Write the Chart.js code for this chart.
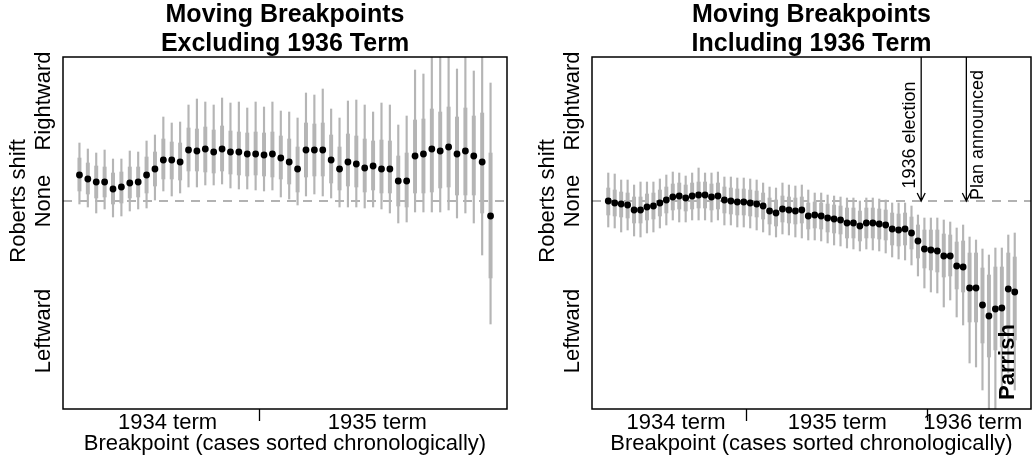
<!DOCTYPE html>
<html>
<head>
<meta charset="utf-8">
<script src="https://cdn.jsdelivr.net/npm/chart.js@4.4.1/dist/chart.umd.min.js"></script>
<style>
  body { margin: 0; background: #fff; }
  canvas { position: absolute; top: 0; }
  #leftChart { left: 0; }
  #rightChart { left: 517px; }
</style>
</head>
<body>
<canvas id="leftChart" width="517" height="460"></canvas>
<canvas id="rightChart" width="518" height="460"></canvas>
<script>
// cases per term, in chronological order
var termLabels = ['1934 term', '1935 term', '1936 term'];
var termSizes1 = [22, 28];
var termSizes2 = [22, 28, 14];

var yTickValues = [1, 0, -1.3];
var yTickLabels = ['Rightward', 'None', 'Leftward'];

// left panel: breakpoints excluding the 1936 term
var est1 = [0.26,0.22,0.19,0.19,0.12,0.14,0.18,0.19,0.26,0.32,0.41,0.41,0.39,0.51,0.50,0.52,0.49,0.52,0.49,0.49,0.47,0.47,0.46,0.47,0.43,
            0.39,0.32,0.51,0.51,0.51,0.41,0.32,0.39,0.37,0.33,0.35,0.32,0.32,0.20,0.20,0.45,0.47,0.52,0.50,0.54,0.47,0.50,0.45,0.39,-0.15];
var hi95_1 = [0.58,0.52,0.48,0.51,0.42,0.42,0.50,0.49,0.60,0.66,0.84,0.78,0.79,0.96,1.02,0.99,0.96,1.03,0.98,0.99,0.93,0.99,0.94,0.99,0.90,
              0.89,0.83,1.08,1.06,1.12,0.92,0.83,1.00,1.01,0.96,0.89,0.98,0.96,0.76,0.85,1.31,1.27,1.60,1.50,1.70,1.32,1.55,1.30,1.60,1.18];
var hi50_1 = [0.43,0.38,0.35,0.34,0.28,0.29,0.34,0.34,0.44,0.49,0.62,0.59,0.58,0.73,0.72,0.74,0.71,0.75,0.70,0.69,0.68,0.69,0.68,0.69,0.65,
              0.62,0.54,0.78,0.77,0.78,0.66,0.54,0.67,0.65,0.62,0.60,0.61,0.60,0.45,0.48,0.81,0.82,0.92,0.89,0.94,0.84,0.93,0.85,0.88,0.48];
var lo50_1 = [0.10,0.07,0.03,0.04,-0.03,-0.02,0.03,0.04,0.08,0.15,0.22,0.22,0.21,0.30,0.30,0.29,0.28,0.30,0.27,0.26,0.25,0.26,0.25,0.24,0.22,
              0.17,0.09,0.24,0.25,0.25,0.18,0.11,0.15,0.14,0.09,0.11,0.08,0.08,-0.05,-0.06,0.08,0.08,0.09,0.13,0.14,0.06,0.06,0.06,-0.12,-0.77];
var lo95_1 = [-0.03,-0.06,-0.12,-0.08,-0.16,-0.15,-0.10,-0.08,-0.07,0.01,0.10,0.05,0.08,0.14,0.14,0.16,0.16,0.17,0.13,0.12,0.12,0.11,0.10,0.11,0.04,
              0.02,-0.04,0.05,0.07,0.05,0.03,-0.06,-0.06,-0.06,-0.07,-0.06,-0.08,-0.12,-0.22,-0.21,-0.11,-0.11,-0.11,-0.11,-0.09,-0.17,-0.12,-0.22,-0.54,-1.23];

// right panel: breakpoints including the 1936 term
var est2 = [0.00,-0.02,-0.03,-0.04,-0.09,-0.09,-0.06,-0.05,-0.02,0.01,0.04,0.05,0.03,0.05,0.06,0.06,0.04,0.05,0.01,0.00,-0.01,-0.01,-0.02,-0.03,-0.05,-0.10,-0.12,-0.08,-0.09,-0.10,-0.09,-0.15,
            -0.14,-0.15,-0.17,-0.18,-0.19,-0.22,-0.22,-0.25,-0.22,-0.22,-0.23,-0.24,-0.28,-0.29,-0.28,-0.32,-0.40,-0.48,-0.49,-0.50,-0.55,-0.55,-0.65,-0.66,-0.87,-0.87,-1.04,-1.15,-1.08,-1.07,-0.88,-0.91];
var hi95_2 = [0.28,0.27,0.21,0.21,0.16,0.19,0.19,0.19,0.22,0.26,0.29,0.28,0.25,0.28,0.33,0.28,0.28,0.29,0.24,0.24,0.23,0.23,0.22,0.21,0.18,0.14,0.13,0.18,0.16,0.15,0.16,0.11,
              0.08,0.08,0.06,0.05,0.04,0.03,0.03,0.00,0.03,0.03,0.02,0.01,-0.02,-0.02,-0.02,-0.05,-0.14,-0.17,-0.17,-0.17,-0.19,-0.21,-0.27,-0.24,-0.36,-0.39,-0.48,-0.54,-0.47,-0.47,-0.34,-0.32];
var hi50_2 = [0.13,0.11,0.09,0.08,0.04,0.04,0.07,0.08,0.11,0.14,0.17,0.18,0.16,0.18,0.19,0.19,0.17,0.18,0.14,0.13,0.12,0.12,0.11,0.10,0.08,0.03,0.01,0.05,0.04,0.03,0.04,-0.02,
              -0.01,-0.02,-0.03,-0.04,-0.05,-0.07,-0.07,-0.10,-0.07,-0.07,-0.08,-0.09,-0.12,-0.13,-0.12,-0.16,-0.24,-0.29,-0.29,-0.29,-0.33,-0.34,-0.41,-0.40,-0.52,-0.52,-0.67,-0.74,-0.66,-0.66,-0.52,-0.56];
var lo50_2 = [-0.14,-0.15,-0.16,-0.17,-0.22,-0.22,-0.19,-0.18,-0.15,-0.12,-0.09,-0.08,-0.10,-0.08,-0.07,-0.07,-0.09,-0.08,-0.12,-0.13,-0.14,-0.14,-0.15,-0.16,-0.18,-0.23,-0.25,-0.21,-0.22,-0.23,-0.22,-0.28,
              -0.27,-0.28,-0.31,-0.32,-0.33,-0.37,-0.37,-0.40,-0.37,-0.37,-0.38,-0.39,-0.44,-0.45,-0.44,-0.48,-0.57,-0.67,-0.69,-0.71,-0.76,-0.75,-0.88,-0.91,-1.21,-1.21,-1.42,-1.56,-1.49,-1.46,-1.28,-1.39];
var lo95_2 = [-0.26,-0.27,-0.31,-0.29,-0.35,-0.36,-0.32,-0.31,-0.27,-0.24,-0.19,-0.21,-0.21,-0.19,-0.19,-0.19,-0.21,-0.19,-0.24,-0.24,-0.26,-0.26,-0.27,-0.29,-0.31,-0.34,-0.36,-0.33,-0.34,-0.36,-0.37,-0.39,
              -0.39,-0.40,-0.42,-0.44,-0.45,-0.47,-0.48,-0.50,-0.48,-0.49,-0.50,-0.52,-0.56,-0.58,-0.59,-0.64,-0.75,-0.87,-0.91,-0.92,-1.06,-0.99,-1.16,-1.24,-1.62,-1.66,-1.89,-2.20,-2.10,-1.92,-1.72,-1.89];

// marked events (case position) and the Parrish decision
var events2 = [
  { label: '1936 election', at: 49.5, side: -1 },
  { label: 'Plan announced', at: 56.5, side: 1 }
];
var parrishCase = 63;

var FONT = '"Liberation Sans", Arial, Helvetica, sans-serif';
var GREY = '#b5b5b5';

function termTicks(sizes) {
  var ticks = [], start = 1;
  sizes.forEach(function (n, i) {
    var end = start + n - 1;
    ticks.push({ value: (start + end) / 2, label: termLabels[i], brk: false });
    if (i < sizes.length - 1) ticks.push({ value: end + 0.5, label: '', brk: true });
    start = end + 1;
  });
  return ticks;
}

function buildDatasets(est, lo95, lo50, hi50, hi95) {
  var pts = [], inner = [], outer = [];
  est.forEach(function (v, i) {
    pts.push({ x: i + 1, y: v });
    inner.push({ x: i + 1, y: [lo50[i], hi50[i]] });
    outer.push({ x: i + 1, y: [lo95[i], hi95[i]] });
  });
  return [
    { type: 'scatter', data: pts, pointRadius: 3.4, pointBackgroundColor: '#000', pointBorderWidth: 0, order: 0 },
    { type: 'bar', data: inner, backgroundColor: GREY, barThickness: 3.3, grouped: false, order: 1 },
    { type: 'bar', data: outer, backgroundColor: GREY, barThickness: 1.5, grouped: false, order: 2 }
  ];
}

var framePlugin = {
  id: 'frame',
  beforeDatasetsDraw: function (chart) {
    var a = chart.chartArea, ctx = chart.ctx;
    var y0 = chart.scales.y.getPixelForValue(0);
    ctx.save();
    ctx.strokeStyle = '#999';
    ctx.lineWidth = 1.3;
    ctx.setLineDash([9, 7]);
    ctx.beginPath();
    ctx.moveTo(a.left, y0);
    ctx.lineTo(a.right, y0);
    ctx.stroke();
    ctx.restore();
  },
  afterDraw: function (chart) {
    var a = chart.chartArea, ctx = chart.ctx, ys = chart.scales.y;
    ctx.save();
    ctx.fillStyle = '#000';
    ctx.font = '22px ' + FONT;
    ctx.textAlign = 'center';
    ctx.textBaseline = 'middle';
    yTickValues.forEach(function (v, i) {
      ctx.save();
      ctx.translate(a.left - 19, ys.getPixelForValue(v));
      ctx.rotate(-Math.PI / 2);
      ctx.fillText(yTickLabels[i], 0, 0);
      ctx.restore();
    });
    ctx.save();
    ctx.translate(a.left - 44, ys.getPixelForValue(0));
    ctx.rotate(-Math.PI / 2);
    ctx.fillText('Roberts shift', 0, 0);
    ctx.restore();
    ctx.lineWidth = 1.5;
    ctx.strokeStyle = '#000';
    ctx.strokeRect(a.left, a.top, a.right - a.left, a.bottom - a.top);
    ctx.restore();
  }
};

var eventsPlugin = {
  id: 'events',
  afterDatasetsDraw: function (chart) {
    var ctx = chart.ctx, a = chart.chartArea, xs = chart.scales.x, ys = chart.scales.y;
    var y0 = ys.getPixelForValue(0);
    var labelY = ys.getPixelForValue(0.66);
    ctx.save();
    ctx.strokeStyle = '#000';
    ctx.fillStyle = '#000';
    ctx.lineWidth = 1.3;
    events2.forEach(function (ev) {
      var x = xs.getPixelForValue(ev.at);
      ctx.beginPath();
      ctx.moveTo(x, a.top);
      ctx.lineTo(x, y0);
      ctx.moveTo(x - 4, y0 - 8);
      ctx.lineTo(x, y0);
      ctx.lineTo(x + 4, y0 - 8);
      ctx.stroke();
      ctx.save();
      ctx.translate(x + ev.side * 11.5, labelY);
      ctx.rotate(-Math.PI / 2);
      ctx.font = '18px ' + FONT;
      ctx.textAlign = 'center';
      ctx.textBaseline = 'middle';
      ctx.fillText(ev.label, 0, 0);
      ctx.restore();
    });
    ctx.save();
    ctx.translate(xs.getPixelForValue(parrishCase), a.bottom - 9);
    ctx.rotate(-Math.PI / 2);
    ctx.font = 'bold 22px ' + FONT;
    ctx.textAlign = 'left';
    ctx.textBaseline = 'middle';
    ctx.fillText('Parrish', 0, 0);
    ctx.restore();
    ctx.restore();
  }
};

function makeChart(id, title, datasets, sizes, pad, plugins) {
  var n = datasets[0].data.length;
  var ext = 0.04 * (n - 1);
  var ticks = termTicks(sizes);
  return new Chart(document.getElementById(id), {
    type: 'bar',
    data: { datasets: datasets },
    options: {
      responsive: false,
      animation: false,
      devicePixelRatio: 1,
      events: [],
      layout: { padding: pad },
      plugins: {
        legend: { display: false },
        tooltip: { enabled: false },
        title: {
          display: true,
          text: title,
          fullSize: false,
          color: '#000',
          font: { family: FONT, size: 25, weight: 'bold', lineHeight: 1.16 },
          padding: { top: 1, bottom: -2 }
        }
      },
      scales: {
        x: {
          type: 'linear',
          min: 1 - ext,
          max: n + ext,
          offset: false,
          afterBuildTicks: function (scale) {
            scale.ticks = ticks.map(function (t) { return { value: t.value }; });
          },
          afterFit: function (scale) { scale.height = 51; },
          grid: {
            offset: false,
            drawOnChartArea: false,
            drawTicks: true,
            tickLength: 12,
            tickWidth: 1.3,
            tickColor: function (ctx) {
              var t = ticks.filter(function (k) { return k.value === ctx.tick.value; })[0];
              return t && t.brk ? '#000' : 'rgba(0,0,0,0)';
            }
          },
          border: { display: false },
          ticks: {
            autoSkip: false,
            maxRotation: 0,
            minRotation: 0,
            padding: -11,
            color: '#000',
            font: { family: FONT, size: 22 },
            callback: function (value) {
              var t = ticks.filter(function (k) { return k.value === value; })[0];
              return t ? t.label : '';
            }
          },
          title: {
            display: true,
            text: 'Breakpoint (cases sorted chronologically)',
            color: '#000',
            font: { family: FONT, size: 22 },
            padding: { top: 0, bottom: 3 }
          }
        },
        y: { type: 'linear', display: false, min: -2.08, max: 1.44 }
      }
    },
    plugins: plugins
  });
}

makeChart('leftChart', ['Moving Breakpoints', 'Excluding 1936 Term'],
  buildDatasets(est1, lo95_1, lo50_1, hi50_1, hi95_1), termSizes1,
  { left: 63, right: 10, top: 0, bottom: 0 }, [framePlugin]);

makeChart('rightChart', ['Moving Breakpoints', 'Including 1936 Term'],
  buildDatasets(est2, lo95_2, lo50_2, hi50_2, hi95_2), termSizes2,
  { left: 75, right: 1, top: 0, bottom: 0 }, [framePlugin, eventsPlugin]);
</script>
</body>
</html>
